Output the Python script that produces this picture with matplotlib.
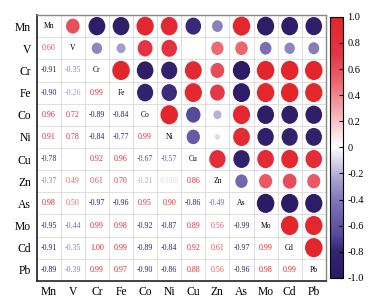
import matplotlib.pyplot as plt
import numpy as np
from matplotlib.colors import LinearSegmentedColormap, Normalize
from matplotlib.patches import Ellipse
from matplotlib.cm import ScalarMappable

plt.rcParams['font.family'] = ['Liberation Serif', 'DejaVu Serif']

elements = ['Mn', 'V', 'Cr', 'Fe', 'Co', 'Ni', 'Cu', 'Zn', 'As', 'Mo', 'Cd', 'Pb']

# lower triangle of the correlation matrix, row by row
lower = [
    [],
    [0.60],
    [-0.91, -0.35],
    [-0.90, -0.26, 0.99],
    [0.96, 0.72, -0.89, -0.84],
    [0.91, 0.78, -0.84, -0.77, 0.99],
    [-0.78, np.nan, 0.92, 0.96, -0.67, -0.57],
    [-0.37, 0.49, 0.61, 0.70, -0.21, -0.088, 0.86],
    [0.98, 0.50, -0.97, -0.96, 0.95, 0.90, -0.86, -0.49],
    [-0.95, -0.44, 0.99, 0.98, -0.92, -0.87, 0.89, 0.56, -0.99],
    [-0.91, -0.35, 1.00, 0.99, -0.89, -0.84, 0.92, 0.61, -0.97, 0.99],
    [-0.89, -0.39, 0.99, 0.97, -0.90, -0.86, 0.88, 0.56, -0.96, 0.98, 0.99],
]

n = len(elements)
corr = np.eye(n)
for i, row in enumerate(lower):
    for j, v in enumerate(row):
        corr[i, j] = v
        corr[j, i] = v

stops = [(0.0, '#2B1A66'), (0.1, '#33246F'), (0.165, '#574A9C'), (0.28, '#7A70B4'),
         (0.325, '#8E86C0'), (0.37, '#A49ECC'), (0.45, '#DAD6EA'), (0.5, '#FFFFFF'),
         (0.6, '#F6C4C6'), (0.745, '#EC6A72'), (0.86, '#E43444'), (1.0, '#E3262B')]
cmap = LinearSegmentedColormap.from_list('rb', stops)
norm = Normalize(-1, 1)

fig = plt.figure(figsize=(3.85, 3.07), dpi=100)
ax = fig.add_axes([0.0953, 0.085, 0.751, 0.866])
ax.set_xlim(-0.5, n - 0.5)
ax.set_ylim(n - 0.5, -0.5)

for k in range(n + 1):
    ax.axhline(k - 0.5, color='#d9d9d9', lw=0.6, zorder=0)
    ax.axvline(k - 0.5, color='#d9d9d9', lw=0.6, zorder=0)

for i in range(n):
    for j in range(n):
        r = corr[i, j]
        if i == j:
            ax.text(j, i, elements[i], ha='center', va='center', fontsize=5.5, color='black')
        elif np.isnan(r):
            continue
        elif i > j:
            txt = '%.3f' % r if abs(r) < 0.1 else '%.2f' % r
            ax.text(j, i, txt, ha='center', va='center', fontsize=5.8, color=cmap(norm(r)))
        else:
            s = np.sqrt(abs(r))
            ax.add_patch(Ellipse((j, i), 0.73 * s, 0.87 * s, facecolor=cmap(norm(r)),
                                 edgecolor='none'))

ax.set_xticks(range(n))
ax.set_yticks(range(n))
ax.set_xticklabels(elements, fontsize=8.4)
ax.set_yticklabels(elements, fontsize=8.4)
ax.tick_params(length=0, pad=4)
for side in ['top', 'right']:
    ax.spines[side].set_color('#888888')
    ax.spines[side].set_linewidth(1.0)
for side in ['left', 'bottom']:
    ax.spines[side].set_color('#222222')
    ax.spines[side].set_linewidth(1.2)

cax = fig.add_axes([0.858, 0.095, 0.034, 0.85])
cb = fig.colorbar(ScalarMappable(norm=norm, cmap=cmap), cax=cax)
cb.set_ticks(np.arange(-1.0, 1.01, 0.2))
cb.set_ticklabels(['-1.0', '-0.8', '-0.6', '-0.4', '-0.2', '0', '0.2', '0.4', '0.6', '0.8', '1.0'])
cax.tick_params(direction='in', length=3, width=0.8, labelsize=7.5, pad=3)
cb.outline.set_linewidth(0.8)

fig.savefig('out.png', dpi=100)
